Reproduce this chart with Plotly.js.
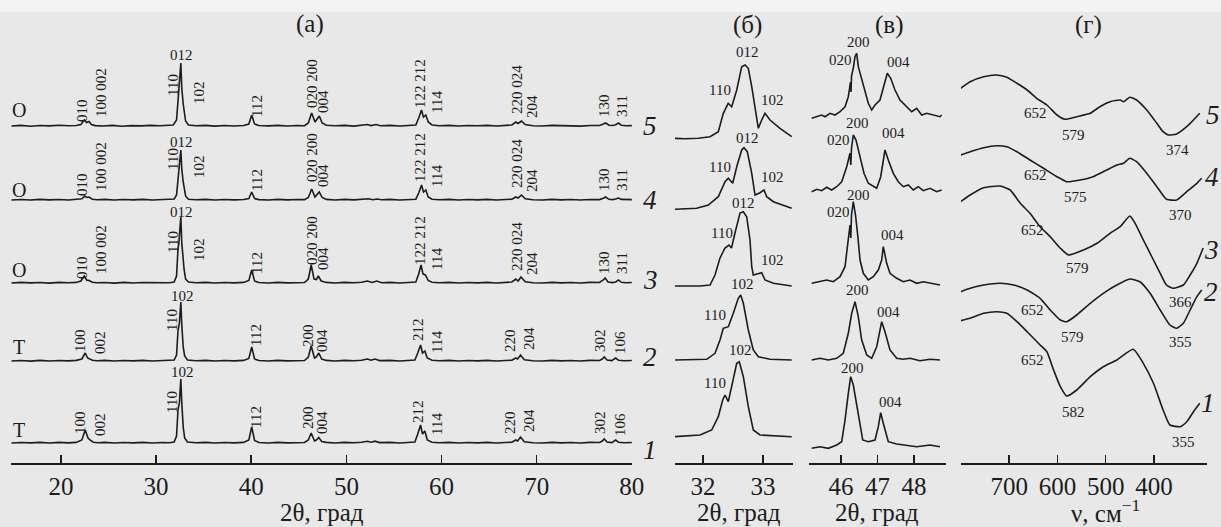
<!DOCTYPE html>
<html><head><meta charset="utf-8">
<script src="https://cdn.plot.ly/plotly-3.0.1.min.js"></script>
<style>html,body{margin:0;padding:0;background:#e8e8e8;}#chart{width:1221px;height:527px;}</style>
</head><body><div id="chart"></div>
<script>
// ---------------- DATA ----------------
// Panel (а): XRD patterns, 2θ (deg) vs intensity above each curve's own baseline
const xrdA5 = [[14.8,0],[15.8,0.6],[16.8,-0.2],[17.8,0.5],[18.8,0.1],[19.8,0.7],[20.8,0.2],[21.6,0.5],[22.1,1.5],[22.45,6],[22.7,3.5],[22.95,4.5],[23.2,1.5],[23.6,0.4],[24.4,0],[25.4,0.6],[26.4,-0.2],[27.4,0.4],[28.4,0.1],[29.4,0.6],[30.4,0.3],[31.2,0.6],[31.8,1],[32.15,6],[32.3,30],[32.4,36],[32.5,50],[32.6,63],[32.7,38],[32.85,22],[32.95,14],[33.1,5],[33.4,1],[34.2,0.2],[35.2,0.6],[36.2,-0.1],[37.2,0.5],[38.2,0],[39.2,0.5],[39.75,2],[40.05,11],[40.35,2],[40.8,0.5],[41.8,0.1],[42.8,0.6],[43.8,0],[44.8,0.5],[45.6,0.3],[46.0,3],[46.35,13],[46.7,4],[46.9,7],[47.15,10],[47.45,3],[47.9,0.7],[48.8,0.2],[49.8,0.6],[50.8,-0.1],[51.6,0.6],[52.2,1.5],[52.6,0.4],[53.1,1.5],[53.6,0.2],[54.6,0.6],[55.6,0],[56.6,0.5],[57.3,1],[57.6,8],[57.9,16],[58.1,9],[58.35,11],[58.6,4],[59.0,1],[59.8,0.3],[60.8,0.6],[61.8,0],[62.8,0.5],[63.8,0.2],[64.8,0.6],[65.8,0],[66.8,0.5],[67.4,1],[67.8,4],[68.05,2.5],[68.4,5],[68.8,1.5],[69.6,0.3],[70.6,0],[71.6,0.6],[72.6,0.2],[73.6,0.5],[74.6,-0.1],[75.6,0.5],[76.6,0.5],[77.0,2],[77.25,3],[77.6,0.8],[78.0,0.5],[78.3,1.2],[78.6,3],[78.9,0.8],[79.4,0.2],[80.0,0.4]];
const xrdA4 = [[14.8,0],[15.8,0.5],[16.8,0],[17.8,0.6],[18.8,0.1],[19.8,0.5],[20.8,0],[21.6,0.5],[22.2,1.2],[22.5,4],[22.75,2.5],[22.95,3],[23.3,0.8],[23.8,0.2],[24.6,0.6],[25.6,0],[26.6,0.5],[27.6,0.1],[28.6,0.6],[29.6,0],[30.6,0.5],[31.4,0.3],[31.9,1],[32.15,5],[32.3,24],[32.4,29],[32.5,40],[32.6,50],[32.7,31],[32.85,18],[32.95,11],[33.1,4],[33.4,0.8],[34.2,0.2],[35.2,0.6],[36.2,0],[37.2,0.5],[38.2,0.1],[39.2,0.5],[39.75,1.5],[40.05,8],[40.35,1.5],[40.8,0.4],[41.8,0],[42.8,0.6],[43.8,0.1],[44.8,0.5],[45.6,0.4],[46.0,2.5],[46.35,11],[46.7,3],[46.9,5.5],[47.15,8],[47.45,2.5],[47.9,0.6],[48.8,0],[49.8,0.6],[50.8,0.1],[51.6,0.6],[52.3,1.3],[52.8,0.3],[53.2,1],[53.7,0.2],[54.6,0.6],[55.6,0],[56.6,0.5],[57.3,0.8],[57.6,7],[57.9,15],[58.1,8],[58.35,10],[58.6,3],[59.0,0.8],[59.8,0.2],[60.8,0.6],[61.8,0],[62.8,0.5],[63.8,0.1],[64.8,0.6],[65.8,0],[66.8,0.5],[67.4,0.8],[67.8,3],[68.05,2],[68.4,5],[68.8,1.2],[69.6,0.3],[70.6,0],[71.6,0.6],[72.6,0.1],[73.6,0.5],[74.6,0],[75.6,0.5],[76.6,0.4],[77.0,1.8],[77.25,3],[77.6,0.7],[78.0,0.4],[78.3,1],[78.6,2],[78.9,0.6],[79.4,0.2],[80.0,0.4]];
const xrdA3 = [[14.8,0],[15.8,0.6],[16.8,0.1],[17.8,0.5],[18.8,-0.1],[19.8,0.6],[20.8,0.2],[21.6,0.6],[22.1,2],[22.45,7],[22.7,3],[22.95,2.5],[23.3,0.7],[23.8,0.2],[24.6,0.5],[25.6,-0.1],[26.6,0.6],[27.6,0],[28.6,0.5],[29.6,0.2],[30.6,0.6],[31.4,0.3],[31.9,1],[32.15,7],[32.3,34],[32.4,40],[32.5,54],[32.6,66],[32.7,40],[32.85,22],[32.95,13],[33.1,4],[33.4,1],[34.2,0.2],[35.2,0.6],[36.2,0],[37.2,0.5],[38.2,0.1],[39.2,0.6],[39.75,2.5],[40.05,13],[40.35,2],[40.8,0.5],[41.8,0],[42.8,0.6],[43.8,0.1],[44.8,0.5],[45.6,0.5],[46.0,4],[46.3,18],[46.6,4],[46.85,3.5],[47.05,7],[47.35,2],[47.9,0.6],[48.8,0],[49.8,0.6],[50.8,0.2],[51.6,0.7],[52.2,2],[52.7,0.5],[53.2,2],[53.7,0.3],[54.6,0.6],[55.6,0],[56.6,0.6],[57.3,1],[57.6,9],[57.85,18],[58.05,9],[58.3,8],[58.6,2.5],[59.0,0.8],[59.8,0.2],[60.8,0.6],[61.8,0],[62.8,0.5],[63.8,0.1],[64.8,0.6],[65.8,0],[66.8,0.5],[67.4,1],[67.8,4],[68.05,2],[68.35,6],[68.8,1.2],[69.6,0.3],[70.6,0],[71.6,0.6],[72.6,0.1],[73.6,0.5],[74.6,0],[75.6,0.6],[76.6,0.5],[77.0,3],[77.2,5],[77.5,1],[78.0,0.4],[78.3,1],[78.6,3],[78.9,0.7],[79.4,0.2],[80.0,0.5]];
const xrdA2 = [[14.8,0],[15.8,0.5],[16.8,-0.1],[17.8,0.6],[18.8,0],[19.8,0.5],[20.8,0.1],[21.6,0.6],[22.2,2],[22.55,8],[22.8,3],[23.0,2],[23.3,0.7],[23.8,0.2],[24.6,0.6],[25.6,0],[26.6,0.5],[27.6,0.1],[28.6,0.6],[29.6,0],[30.6,0.5],[31.4,0.3],[31.9,1],[32.15,6],[32.3,30],[32.45,38],[32.52,50],[32.6,59],[32.7,36],[32.85,14],[33.0,5],[33.3,1],[34.2,0.2],[35.2,0.6],[36.2,0],[37.2,0.5],[38.2,0.1],[39.2,0.6],[39.75,2.5],[40.05,14],[40.35,2],[40.8,0.5],[41.8,0],[42.8,0.6],[43.8,0.1],[44.8,0.5],[45.6,0.5],[46.0,4],[46.3,15],[46.65,3],[46.85,4],[47.1,8],[47.4,2],[47.9,0.6],[48.8,0],[49.8,0.6],[50.8,0.2],[51.6,0.7],[52.2,2],[52.6,0.8],[53.0,2],[53.5,0.4],[54.6,0.6],[55.6,0],[56.6,0.6],[57.2,1],[57.5,8],[57.8,16],[58.0,8],[58.25,10],[58.5,3],[59.0,0.8],[59.8,0.2],[60.8,0.6],[61.8,0],[62.8,0.5],[63.8,0.1],[64.8,0.6],[65.8,0],[66.8,0.5],[67.4,0.8],[67.8,3],[68.0,2],[68.3,6],[68.7,1.2],[69.6,0.3],[70.6,0],[71.6,0.6],[72.6,0.1],[73.6,0.5],[74.6,0],[75.6,0.6],[76.6,0.5],[76.9,2],[77.1,4],[77.4,1],[77.9,0.4],[78.3,3],[78.6,0.8],[79.2,0.2],[80.0,0.5]];
const xrdA1 = [[14.8,0],[15.8,0.5],[16.8,0.1],[17.8,0.6],[18.8,0],[19.8,0.6],[20.8,0.1],[21.6,0.6],[22.2,3],[22.55,13],[22.85,5],[23.05,3],[23.4,0.8],[23.9,0.2],[24.6,0.6],[25.6,0],[26.6,0.5],[27.6,0.1],[28.6,0.6],[29.6,0],[30.6,0.5],[31.4,0.3],[31.9,1],[32.15,7],[32.3,33],[32.45,40],[32.52,52],[32.6,64],[32.7,40],[32.85,16],[33.0,5],[33.3,1],[34.2,0.2],[35.2,0.6],[36.2,0],[37.2,0.5],[38.2,0.1],[39.2,0.6],[39.75,3],[40.05,16],[40.35,2.5],[40.8,0.5],[41.8,0],[42.8,0.6],[43.8,0.1],[44.8,0.5],[45.6,0.5],[46.0,3],[46.3,10],[46.65,2],[46.85,3],[47.1,5.5],[47.4,1.5],[47.9,0.6],[48.8,0],[49.8,0.6],[50.8,0.2],[51.6,0.7],[52.2,1.8],[52.6,0.8],[53.0,1.8],[53.5,0.4],[54.6,0.6],[55.6,0],[56.6,0.6],[57.2,1],[57.5,9],[57.8,18],[58.0,9],[58.25,12],[58.5,3],[59.0,0.8],[59.8,0.2],[60.8,0.6],[61.8,0],[62.8,0.5],[63.8,0.1],[64.8,0.6],[65.8,0],[66.8,0.5],[67.4,0.8],[67.8,3],[68.0,2],[68.3,6],[68.7,1.2],[69.6,0.3],[70.6,0],[71.6,0.6],[72.6,0.1],[73.6,0.5],[74.6,0],[75.6,0.6],[76.6,0.5],[76.9,2],[77.1,4],[77.4,1],[77.9,0.4],[78.3,3],[78.6,0.8],[79.2,0.2],[80.0,0.5]];

// Panel (б): 2θ 31.5–33.5
const xrdB5 = [[31.505,0],[31.7,-0.5],[31.92,0],[32.117,1.6],[32.255,6.6],[32.338,25],[32.42,35],[32.478,31.6],[32.562,48.3],[32.645,71.6],[32.7,73.3],[32.755,70],[32.812,51.6],[32.867,28.3],[32.922,10],[32.978,18.3],[33.033,25],[33.117,18.3],[33.283,10],[33.478,1.6]];
const xrdB4 = [[31.505,0],[31.895,1],[32.088,4.3],[32.255,12.6],[32.367,27.6],[32.422,31],[32.495,26],[32.562,42.6],[32.645,59.3],[32.683,61.6],[32.738,57.6],[32.812,36],[32.867,14.3],[32.95,16.6],[33.017,19.3],[33.062,12.6],[33.172,7.6],[33.338,4.3],[33.478,1]];
const xrdB3 = [[31.505,0],[31.95,0],[32.117,1],[32.2,11],[32.283,28],[32.367,38],[32.433,41],[32.475,38],[32.533,53],[32.617,73],[32.672,74.3],[32.728,69.3],[32.783,46],[32.812,19.3],[32.838,11],[32.922,12.7],[32.978,13.3],[33.033,6],[33.172,2.7],[33.478,0]];
const xrdB2 = [[31.505,0],[32.062,0.7],[32.2,6.7],[32.283,20],[32.338,31.7],[32.422,33.3],[32.505,46.7],[32.588,61.7],[32.628,65],[32.672,56.7],[32.755,30],[32.838,10],[32.922,3.3],[33.117,0.7],[33.478,0]];
const xrdB1 = [[31.505,0],[31.95,1.7],[32.145,6.7],[32.255,20],[32.328,36.7],[32.367,41.7],[32.422,35],[32.505,56.7],[32.562,73.4],[32.605,75],[32.672,60],[32.755,30],[32.838,6.7],[32.95,1.7],[33.478,0]];

// Panel (в): 2θ 45.1–48.9
const xrdC5 = [[45.197,-1.3],[45.334,0.3],[45.471,2],[45.562,0.3],[45.699,3.7],[45.836,2],[45.973,5.3],[46.11,10.3],[46.2,20.3],[46.26,35],[46.274,25],[46.288,41],[46.337,49],[46.384,60.3],[46.43,63.7],[46.474,50.3],[46.567,37],[46.658,23.7],[46.748,13.7],[46.841,7],[46.932,12],[47.068,17],[47.159,28.7],[47.268,43.7],[47.362,38.7],[47.479,27],[47.616,17],[47.753,12],[47.937,5.3],[48.074,8.7],[48.211,2],[48.348,3.7],[48.529,2],[48.712,0.3],[48.759,2]];
const xrdC4 = [[45.197,-1.7],[45.334,0.7],[45.471,-0.7],[45.608,2.7],[45.745,0],[45.882,3.3],[46.019,8.3],[46.156,23.3],[46.247,36.7],[46.268,25],[46.288,42],[46.337,55],[46.411,50],[46.521,33.3],[46.63,16.7],[46.748,6.7],[46.885,3.3],[46.978,1.7],[47.088,13.3],[47.205,40],[47.296,30],[47.433,16.7],[47.57,8.3],[47.707,3.3],[47.844,5],[47.981,0],[48.118,3.3],[48.255,-0.7],[48.438,1.7],[48.622,-1.7],[48.759,0]];
const xrdC3 = [[45.197,-1.3],[45.425,0.3],[45.608,2],[45.789,0.3],[45.973,5.3],[46.11,15.3],[46.192,37],[46.247,57],[46.268,44],[46.288,67],[46.337,80.3],[46.397,67],[46.466,44],[46.521,22],[46.611,8.7],[46.748,2],[46.885,5.3],[47.022,12],[47.115,22],[47.159,35.3],[47.252,18.7],[47.342,8.7],[47.526,3.7],[47.707,0.3],[47.89,2],[48.074,-1.3],[48.255,0.3],[48.438,-1.3],[48.712,-3]];
const xrdC2 = [[45.197,-0.5],[45.425,1.2],[45.652,-0.5],[45.882,1.2],[46.063,6.2],[46.2,26.2],[46.293,46.2],[46.384,57.8],[46.474,42.8],[46.567,19.5],[46.704,4.5],[46.841,1.2],[46.978,12.8],[47.115,37.8],[47.205,27.8],[47.342,9.5],[47.526,1.2],[47.707,0.2],[47.89,1.2],[48.164,-1.2],[48.438,0.2],[48.712,-0.5]];
const xrdC1 = [[45.197,-1.8],[45.425,-0.2],[45.652,-1.8],[45.882,1.5],[46.019,4.8],[46.11,26.5],[46.2,53.2],[46.266,69.8],[46.337,61.5],[46.474,33.2],[46.595,6.5],[46.748,4.8],[46.932,6.5],[47.022,19.8],[47.088,33.8],[47.159,23.2],[47.296,4.8],[47.526,2.5],[47.8,1.5],[48.074,-0.2],[48.438,1.5],[48.712,-0.2]];

// Panel (г): IR spectra, wavenumber (cm-1) vs relative transmittance
const irD5 = [[801,0],[781,6.6],[753,11.6],[726,13.3],[705,11],[684,5],[663,-1.7],[643,-10],[622,-16.7],[601,-26.7],[584,-31],[560,-28.4],[532,-25],[512,-18.4],[491,-13.4],[470,-11.7],[463,-13.4],[450,-9],[436,-11.7],[415,-21.7],[394,-35],[381,-43.4],[370,-46.7],[353,-45.7],[332,-38.4],[318,-31.7],[305,-25]];
const irD4 = [[801,0],[781,3.3],[753,7.3],[726,9.3],[705,8.3],[684,3.3],[657,-5],[629,-13.3],[601,-21.7],[581,-26.7],[553,-25],[526,-21.7],[498,-15],[477,-10],[463,-8.3],[450,-3.3],[436,-6.7],[415,-18.3],[394,-31.7],[374,-44.3],[353,-45],[332,-36.7],[311,-28.3],[301,-23.3]];
const irD3 = [[801,0],[781,6.7],[753,14],[719,15.7],[698,11.7],[677,-1.6],[657,-11.6],[636,-25],[615,-35],[594,-46.6],[577,-53.3],[546,-48.3],[518,-41.6],[491,-31.6],[470,-25],[450,-14.3],[439,-21.6],[422,-38.3],[401,-58.3],[387,-71.6],[374,-83.3],[360,-86.6],[339,-83.3],[325,-73.3],[311,-61.6],[298,-46.3]];
const irD2 = [[801,0],[781,3.4],[753,6.7],[719,8.4],[691,6.7],[663,1.7],[636,-6.6],[615,-18.3],[594,-28.3],[581,-30],[560,-23.3],[532,-11.6],[505,-1.6],[477,6.7],[450,12.7],[429,10],[408,-1.6],[387,-18.3],[367,-33.3],[353,-36.6],[339,-31.6],[325,-18.3],[311,-5],[301,1.7]];
const irD1 = [[801,0],[781,2.4],[753,7.4],[726,9],[705,7.4],[684,-1],[663,-11],[636,-24.3],[622,-31],[608,-49.3],[594,-66],[581,-75.3],[560,-69.3],[532,-56],[505,-46],[477,-39.3],[443,-28.6],[422,-42.6],[401,-62.6],[381,-89.3],[367,-104.3],[346,-106],[332,-101],[318,-91],[305,-82.6]];

// Tick labels
const ticksA = [20,30,40,50,60,70,80];
const ticksB = [32,33];
const ticksC = [46,47,48];
const ticksD = [700,600,500,400];

// ---------------- LAYOUT ----------------
const W = 1221, H = 527;
const SERIF = 'Liberation Serif, Times New Roman, serif';
const INK = '#1c1c1c';
// vertical placement of each curve's baseline (y units = pixels above the axis line)
const offA = [337, 263, 180, 102, 20];
const offB = [324.7, 253.7, 177, 103, 26.3];
const offC = [346, 273, 181, 103.5, 16.5];
const offD = [374.7, 308, 261.3, 171.3, 142.3];

const traces = [];
function addSet(sets, offs, xa, shape) {
  sets.forEach((d, i) => {
    traces.push({
      type: 'scatter', mode: 'lines', xaxis: xa, yaxis: 'y',
      x: d.map(p => p[0]), y: d.map(p => p[1] + offs[i]),
      line: {color: INK, width: 1.6, shape: shape || 'linear', smoothing: 0.5},
      hoverinfo: 'skip', showlegend: false
    });
  });
}
addSet([xrdA5, xrdA4, xrdA3, xrdA2, xrdA1], offA, 'x');
addSet([xrdB5, xrdB4, xrdB3, xrdB2, xrdB1], offB, 'x2');
addSet([xrdC5, xrdC4, xrdC3, xrdC2, xrdC1], offC, 'x3');
addSet([irD5, irD4, irD3, irD2, irD1], offD, 'x4', 'spline');

const ann = [];
function T(px, py, text, size, opt) {
  opt = opt || {};
  ann.push({
    xref: 'paper', yref: 'paper', x: px / W, y: 1 - py / H, text: text,
    showarrow: false, xanchor: 'center', yanchor: 'middle',
    textangle: opt.angle || 0,
    font: {family: SERIF, size: size, color: INK, style: opt.italic ? 'italic' : 'normal'}
  });
}
function R(px, py, text) { T(px, py, text, 15, {angle: -90}); }
function L(px, py, text) { T(px, py, text, 15); }

// panel titles
T(310, 24, '(а)', 25); T(747, 25, '(б)', 25); T(889, 25, '(в)', 25); T(1088, 25, '(г)', 25);
// phase letters
T(19, 110, 'O', 20); T(19, 190, 'O', 20); T(19, 270, 'O', 20); T(19, 347, 'T', 20); T(19, 430, 'T', 20);
// curve numbers
[[5,126],[4,200],[3,280],[2,357],[1,450]].forEach(n => T(650, n[1], String(n[0]), 27, {italic: true}));
[[5,1213,115],[4,1212,177],[3,1211,250],[2,1211,292],[1,1208,403]].forEach(n => T(n[1], n[2], String(n[0]), 27, {italic: true}));

// panel (а) hkl labels
[126, 200, 283].forEach(b => {
  const lbl = [
    [82, b-15, '010'], [101, b-33, '100 002'], [173, b-41, '110'], [199, b-34, '102'],
    [257, b-20, '112'], [312, b-42, '020 200'], [323, b-24, '004'], [420, b-42, '122 212'],
    [437, b-24, '114'], [517, b-36, '220 024'], [532, b-19, '204'], [604, b-20, '130'], [622, b-20, '311']
  ];
  lbl.forEach(l => R(l[0], l[1], l[2]));
});
L(181, 55, '012'); L(181, 142, '012'); L(181, 212, '012');
[[361, 296],[443, 372]].forEach(c => {
  const b = c[0];
  const lbl = [
    [80, b-20, '100'], [100, b-18, '002'], [172, b-41, '110'], [256, b-26, '112'],
    [308, b-25, '200'], [322, b-20, '004'], [418, b-31, '212'], [437, b-19, '114'],
    [510, b-20, '220'], [529, b-22, '204'], [600, b-20, '302'], [620, b-18, '106']
  ];
  lbl.forEach(l => R(l[0], l[1], l[2]));
  L(182, c[1], '102');
});

// panel (б) labels
L(720, 90, '110'); L(747, 52, '012'); L(772, 100, '102');
L(720, 167, '110'); L(747, 138, '012'); L(772, 177, '102');
L(722, 233, '110'); L(743, 203, '012'); L(772, 260, '102');
L(742, 284, '102'); L(715, 315, '110');
L(740, 350, '102'); L(715, 383, '110');
// panel (в) labels
L(840, 60, '020'); L(858, 42, '200'); L(898, 62, '004');
L(838, 140, '020'); L(857, 123, '200'); L(893, 133, '004');
L(838, 212, '020'); L(858, 195, '200'); L(892, 235, '004');
L(857, 290, '200'); L(888, 312, '004');
L(852, 368, '200'); L(890, 402, '004');
// panel (г) labels
L(1035, 113, '652'); L(1073, 135, '579'); L(1177, 150, '374');
L(1035, 175, '652'); L(1075, 197, '575'); L(1180, 215, '370');
L(1032, 230, '652'); L(1077, 268, '579'); L(1180, 302, '366');
L(1032, 310, '652'); L(1072, 337, '579'); L(1180, 342, '355');
L(1032, 360, '652'); L(1073, 412, '582'); L(1183, 442, '355');

// axis titles
T(322, 512, '2θ, град', 25); T(739, 512, '2θ, град', 25); T(877, 512, '2θ, град', 25);
T(1105, 511, 'ν, см<sup>−1</sup>', 25);

function xax(dom, rng, tv) {
  return {
    domain: dom, range: rng, anchor: 'y', showgrid: false, zeroline: false,
    showline: true, linecolor: INK, linewidth: 1.6,
    ticks: 'inside', ticklen: 8, tickwidth: 1.5, tickcolor: INK,
    tickvals: tv, ticktext: tv.map(String), ticklabelstandoff: 0,
    tickfont: {family: SERIF, size: 25, color: INK}, fixedrange: true
  };
}
const layout = {
  width: W, height: H, margin: {l: 0, r: 0, t: 0, b: 0},
  paper_bgcolor: '#e8e8e8', plot_bgcolor: 'rgba(0,0,0,0)', showlegend: false,
  xaxis:  xax([11/W, 632/W], [14.75, 80.02], ticksA),
  xaxis2: xax([675/W, 793/W], [31.533, 33.5], ticksB),
  xaxis3: xax([809/W, 946/W], [45.123, 48.877], ticksC),
  xaxis4: xax([961/W, 1207/W], [800, 290], ticksD),
  yaxis: {domain: [64/H, 487/H], range: [0, 423], visible: false, fixedrange: true},
  shapes: [{type: 'rect', xref: 'paper', yref: 'paper', x0: 0, x1: 1, y0: 1 - 12/H, y1: 1,
            fillcolor: '#f3f3f3', line: {width: 0}, layer: 'below'}],
  annotations: ann
};
Plotly.newPlot('chart', traces, layout, {staticPlot: true, displayModeBar: false});
</script>
</body></html>
